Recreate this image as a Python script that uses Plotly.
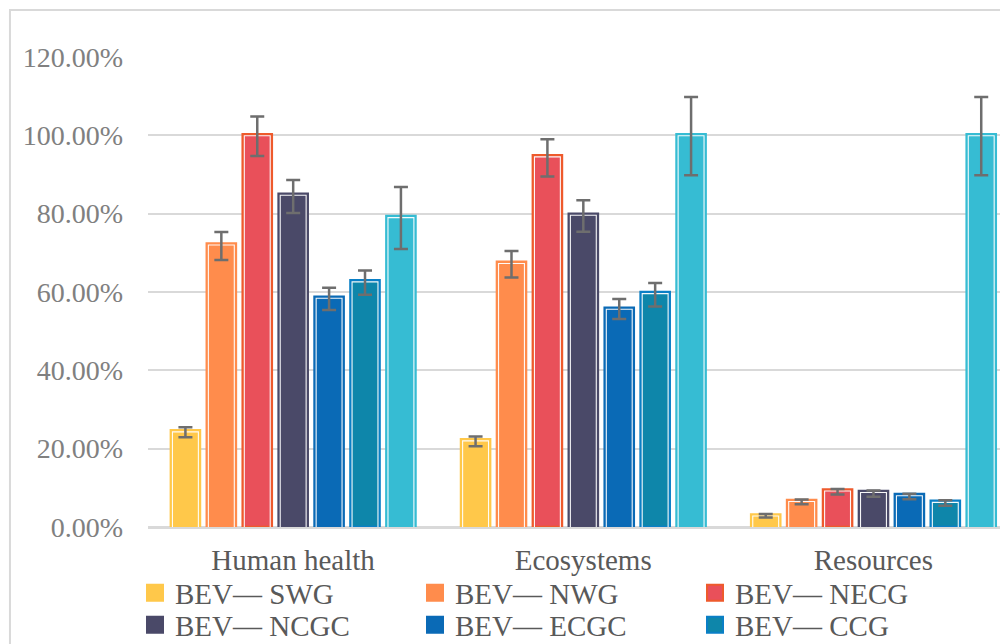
import plotly.graph_objects as go

categories = ["Human health", "Ecosystems", "Resources"]
series = ["BEV— SWG", "BEV— NWG", "BEV— NECG", "BEV— NCGC", "BEV— ECGC", "BEV— CCG", "BEV— CSG"]

swg = [24.7, 22.4, 3.2]
nwg = [72.4, 67.7, 6.9]
necg = [100.3, 94.9, 9.6]
ncgc = [85.1, 80.0, 9.2]
ecgc = [58.8, 56.0, 8.4]
ccg = [63.0, 60.0, 6.7]
csg = [79.4, 100.3, 100.3]
values = [swg, nwg, necg, ncgc, ecgc, ccg, csg]

err_plus = [[0.8, 0.7, 0.1], [2.9, 2.8, 0.1], [4.5, 4.1, 0.1], [3.5, 3.4, 0.1],
            [2.3, 2.2, 0.1], [2.5, 2.3, 0.1], [7.4, 9.5, 9.5]]
err_minus = [[1.8, 1.8, 0.8], [4.2, 4.0, 1.1], [5.6, 5.4, 1.3], [4.9, 4.6, 1.5],
             [3.4, 2.9, 1.3], [3.7, 3.7, 1.3], [8.4, 10.5, 10.5]]

y_tickvals = [0, 20, 40, 60, 80, 100, 120]
y_ticktext = ["0.00%", "20.00%", "40.00%", "60.00%", "80.00%", "100.00%", "120.00%"]

fills = ["#FFC84A", "#FF8C4C", "#E9505A", "#4A4968", "#0A6AB6", "#0E86AA", "#36BCD3"]
edges = ["#FFC84A", "#FF8C4C", "#EE5A2C", "#4A4968", "#0A6AB6", "#0A7FC6", "#36BCD3"]
legend_ids = ["legend", "legend", "legend", "legend2", "legend2", "legend2", None]

PX_X = 290.0      # pixels per category
PX_Y = 3.917      # pixels per percent
bar_w = 29.1 / PX_X
pitch = 35.9 / PX_X
first_off = -0.4212
inset_x = 1.6 / PX_X
inset_y = 1.6 / PX_Y

fig = go.Figure()
for i, name in enumerate(series):
    off = first_off + i * pitch
    fig.add_trace(go.Bar(
        x=categories, y=values[i], name=name, offset=off, width=bar_w,
        marker=dict(color=fills[i], line=dict(color=edges[i], width=2.5)),
        showlegend=False, hoverinfo="skip"))
    fig.add_trace(go.Bar(
        x=categories, y=[v - inset_y + 1 for v in values[i]], base=-1,
        offset=off + inset_x, width=bar_w - 2 * inset_x,
        marker=dict(color="rgba(0,0,0,0)", line=dict(color="rgba(255,255,255,0.95)", width=1.1)),
        showlegend=False, hoverinfo="skip"))
for i, name in enumerate(series):
    off = first_off + i * pitch
    fig.add_trace(go.Bar(
        x=categories, y=values[i], name=name, offset=off, width=bar_w,
        marker=dict(color="rgba(0,0,0,0)", line=dict(width=0)),
        error_y=dict(type="data", symmetric=False, array=err_plus[i], arrayminus=err_minus[i],
                     color="#6E6E6E", thickness=2.5, width=7),
        showlegend=False))
for i, name in enumerate(series):
    if legend_ids[i] is None:
        continue
    fig.add_trace(go.Scatter(
        x=[None], y=[None], mode="markers", name=name, legend=legend_ids[i],
        marker=dict(symbol="square", size=16, color=fills[i], line=dict(color=edges[i], width=2))))

legend_common = dict(orientation="h", xref="container", yref="container", xanchor="left",
                     yanchor="middle", font=dict(size=29, color="#595959"),
                     entrywidth=235, entrywidthmode="pixels", tracegroupgap=0,
                     itemwidth=30, bgcolor="rgba(0,0,0,0)")

fig.update_layout(
    width=1000, height=636,
    margin=dict(l=140, r=0, t=49, b=117, autoexpand=False),
    paper_bgcolor="white", plot_bgcolor="white",
    barmode="overlay",
    font=dict(family="Liberation Serif", color="#595959"),
    legend=dict(x=127 / 1000, y=1 - 585 / 636, **legend_common),
    legend2=dict(x=127 / 1000, y=1 - 617 / 636, **legend_common),
    xaxis=dict(type="category", range=[-0.5, 2.464], showgrid=False, showline=True,
               linecolor="#D9D9D9", linewidth=2, ticks="", tickfont=dict(size=29, color="#595959"),
               ticklabelstandoff=6),
    yaxis=dict(range=[0, 120], tickvals=y_tickvals, ticktext=y_ticktext,
               showgrid=True, gridcolor="#D9D9D9", gridwidth=2,
               zeroline=True, zerolinecolor="#D9D9D9", zerolinewidth=2,
               tickfont=dict(size=28, color="#808080"), ticks="", ticklabelstandoff=24),
    shapes=[dict(type="rect", xref="paper", yref="paper", x0=-0.1605, x1=1.3, y0=-0.6, y1=1.1,
                 line=dict(color="#D9D9D9", width=2), fillcolor="rgba(0,0,0,0)", layer="below")],
)

fig.write_html("out.html")
